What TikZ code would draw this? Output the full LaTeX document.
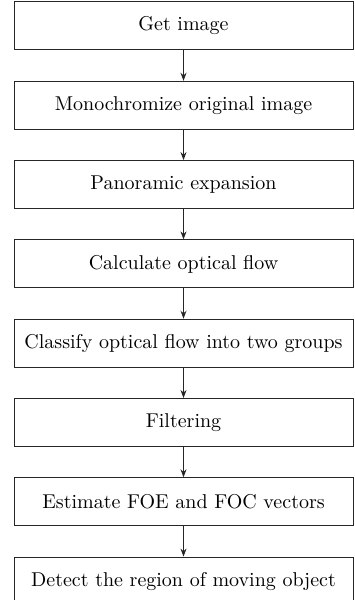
\documentclass[tikz,border=0pt]{standalone}
\usepackage{tikz}
\usetikzlibrary{arrows.meta,positioning}

\begin{document}
\begin{tikzpicture}[
  node distance=15.15pt,>={Stealth[length=4pt,width=3pt]},
  box/.style={rectangle,draw=black!85,line width=0.5pt,minimum width=169.5pt,minimum height=24pt,inner sep=1pt,font=\normalsize,align=center},
  edge/.style={->,line width=0.5pt,black!85}
]
  \useasboundingbox (0,0) rectangle (177pt,300pt);
  % Process steps -- one column
  \node[box] (get) at (91.75pt,287pt) {Get image};
  \node[box,below=of get]      (mono)     {Monochromize original image};
  \node[box,below=of mono]     (pano)     {Panoramic expansion};
  \node[box,below=of pano]     (flow)     {Calculate optical flow};
  \node[box,below=of flow]     (classify) {Classify optical flow into two groups};
  \node[box,below=of classify] (filter)   {Filtering};
  \node[box,below=of filter]   (foe)      {Estimate FOE and FOC vectors};
  \node[box,below=of foe]      (detect)   {Detect the region of moving object};

  % Arrows between steps
  \draw[edge] (get)      -- (mono);
  \draw[edge] (mono)     -- (pano);
  \draw[edge] (pano)     -- (flow);
  \draw[edge] (flow)     -- (classify);
  \draw[edge] (classify) -- (filter);
  \draw[edge] (filter)   -- (foe);
  \draw[edge] (foe)      -- (detect);
\end{tikzpicture}
\end{document}
